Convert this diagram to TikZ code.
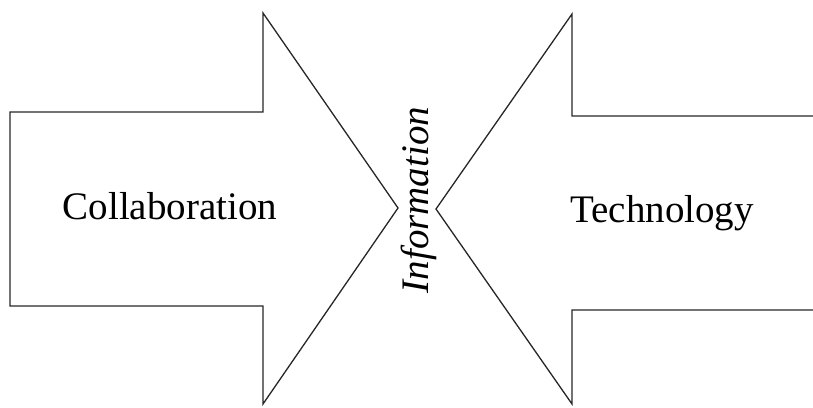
\documentclass[tikz,border=0pt]{standalone}
\usepackage{fontspec}
\setmainfont{Liberation Serif}
\begin{document}
\begin{tikzpicture}[x=1pt,y=-1pt,
  outline/.style={draw=black!85,line width=1.3pt,line join=miter},
  label/.style={anchor=base,inner sep=0pt,font=\fontsize{39}{41}\selectfont}]
\useasboundingbox (0,0) rectangle (813,407);
% left shape: closed arrow pointing right
\draw[outline] (10,112) -- (263,112) -- (263,13) -- (398,208) -- (263,404)
  -- (263,306) -- (10,306) -- cycle;
% right shape: arrow pointing left, its tail running off the edge
\draw[outline] (813,116) -- (572,116) -- (572,14) -- (436,209) -- (572,404)
  -- (572,310) -- (813,310);
\node[label] (collab) at (170,219) {Collaboration};
\node[label] (tech) at (662,222) {Technology};
\node[label,rotate=90] (info) at (428,200) {\itshape Information};
\end{tikzpicture}
\end{document}
